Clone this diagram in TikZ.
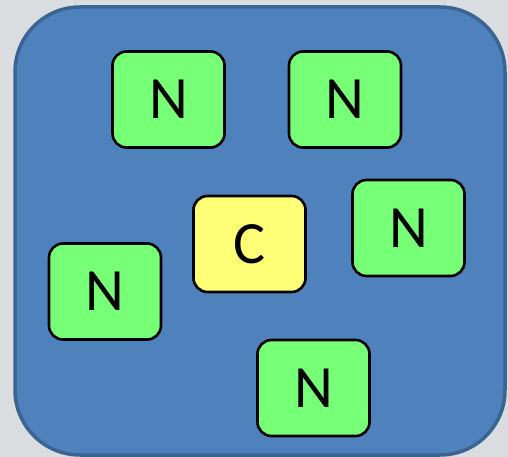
\documentclass[tikz,border=0pt]{standalone}
\usepackage{fontspec}
\setmainfont{Carlito}
\begin{document}
\begin{tikzpicture}[x=1pt,y=-1pt,
  panel/.style={draw=panelborder,line width=3.5pt,fill=panelfill,rounded corners=65pt},
  nodebox/.style={draw=black,line width=2.6pt,rounded corners=14pt,fill=nodegreen,
    minimum width=112pt,minimum height=96pt,inner sep=0pt,
    font=\fontsize{60}{60}\selectfont},
  centerbox/.style={nodebox,fill=centeryellow}]
\definecolor{bggrey}{HTML}{DADDDF}
\definecolor{panelfill}{HTML}{4F81BD}
\definecolor{panelborder}{HTML}{3A6593}
\definecolor{nodegreen}{HTML}{77FF77}
\definecolor{centeryellow}{HTML}{FFFF77}
% page background
\fill[bggrey] (0,0) rectangle (508,457);
\useasboundingbox (0,0) rectangle (508,457);
% outer panel
\draw[panel] (15,7) rectangle (505,455);
% nodes
\node[nodebox]   (n1) at (168.5,99.5)  {N};
\node[nodebox]   (n2) at (345,99.5)    {N};
\node[nodebox]   (n3) at (408.5,228)   {N};
\node[nodebox]   (n4) at (105,291.5)   {N};
\node[nodebox]   (n5) at (313.5,388)   {N};
\node[centerbox] (c)  at (249.5,244)   {C};
\end{tikzpicture}
\end{document}
